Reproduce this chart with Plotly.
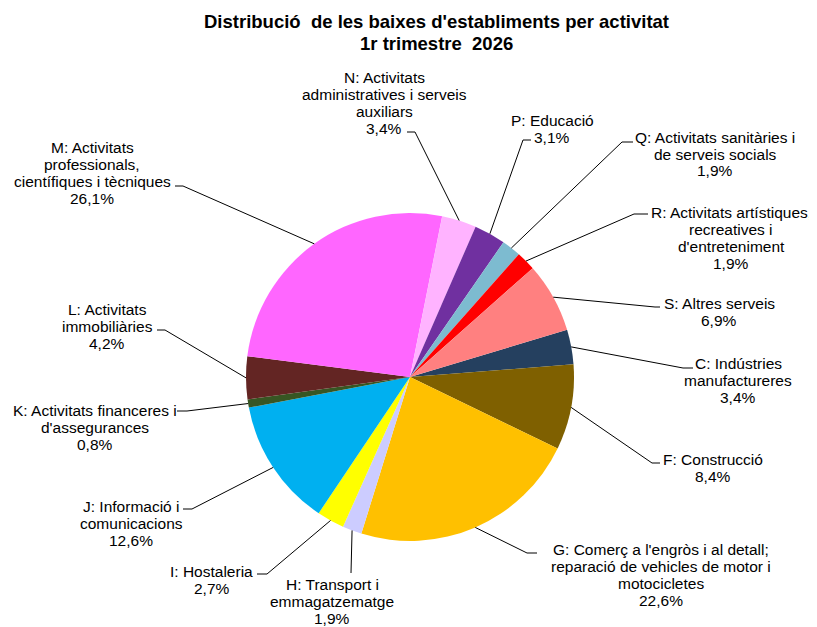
import math
import plotly.graph_objects as go

# Dades: baixes d'establiments per activitat, 1r trimestre 2026 (%)
codes = ["C", "F", "G", "H", "I", "J", "K", "L", "M", "N", "P", "Q", "R", "S"]
names = [
    "C: Indústries\nmanufactureres",
    "F: Construcció",
    "G: Comerç a l'engròs i al detall;\nreparació de vehicles de motor i\nmotocicletes",
    "H: Transport i\nemmagatzematge",
    "I: Hostaleria",
    "J: Informació i\ncomunicacions",
    "K: Activitats financeres i\nd'assegurances",
    "L: Activitats\nimmobiliàries",
    "M: Activitats\nprofessionals,\ncientífiques i tècniques",
    "N: Activitats\nadministratives i serveis\nauxiliars",
    "P: Educació",
    "Q: Activitats sanitàries i\nde serveis socials",
    "R: Activitats artístiques,\nrecreatives i\nd'entreteniment",
    "S: Altres serveis",
]
values = [3.4, 8.4, 22.6, 1.9, 2.7, 12.6, 0.8, 4.2, 26.1, 3.4, 3.1, 1.9, 1.9, 6.9]
colors = ["#25405F", "#7F6000", "#FFC000", "#CCCCFF", "#FFFF00", "#00B0F0", "#375623",
          "#632523", "#FF66FF", "#FFB3FF", "#7030A0", "#7DBBD0", "#FF0000", "#FF8080"]
title_lines = ["Distribució  de les baixes d'establiments per activitat", "1r trimestre  2026"]

# layout (page pixels; the page body has an 8px margin at top/left)
PAGE_W, PAGE_H, OFF = 817, 627, 8
W, H = PAGE_W - OFF, PAGE_H - OFF
CX, CY, R = 410, 377, 164
ROTATION = 73.3
FONT = "Liberation Sans, Arial, sans-serif"
LINE_H = 17

# centre of each label block and the leader line elbow / end
label_pos = {
    "C": (738, 380), "F": (713, 468), "G": (661, 575), "H": (332, 601),
    "I": (212, 580), "J": (131, 523), "K": (95, 427), "L": (107, 326),
    "M": (92, 173), "N": (384, 103), "P": (552, 129), "Q": (715, 154),
    "R": (731, 238), "S": (719, 312),
}
leader = {
    "C": (683, 368, 693), "F": (652, 463, 660), "G": (527, 553, 537),
    "H": (351, 573, 351), "I": (267, 574, 257), "J": (192, 509, 183),
    "K": (187, 411, 177), "L": (165, 330, 157), "M": (183, 186, 175),
    "N": (415, 132, 407), "P": (523, 140, 531), "Q": (622, 142, 633),
    "R": (634, 214, 648), "S": (655, 307, 660),
}


def px(x):
    return (x - OFF) / W


def py(y):
    return 1 - (y - OFF) / H


fig = go.Figure()
fig.add_trace(
    go.Pie(
        labels=codes,
        values=values,
        sort=False,
        direction="clockwise",
        rotation=ROTATION,
        marker=dict(colors=colors, line=dict(width=0)),
        textinfo="none",
        hoverinfo="label+percent",
        showlegend=False,
        domain=dict(x=[px(CX - R), px(CX + R)], y=[py(CY + R), py(CY - R)]),
    )
)

total = sum(values)
cum = 0
shapes = []
annotations = []
for code, name, v in zip(codes, names, values):
    mid = math.radians(ROTATION + 360 * (cum + v / 2) / total)
    cum += v
    sx = CX + R * math.sin(mid)
    sy = CY - R * math.cos(mid)
    ex, ey, tx = leader[code]
    shapes.append(dict(
        type="path", xref="paper", yref="paper",
        path=f"M {px(sx)} {py(sy)} L {px(ex)} {py(ey)} L {px(tx)} {py(ey)}",
        line=dict(color="black", width=1),
    ))

    lines = name.split("\n") + [f"{v:.1f}".replace(".", ",") + "%"]
    lx, ly = label_pos[code]
    for i, line in enumerate(lines):
        annotations.append(dict(
            text=line, x=px(lx), y=py(ly + (i - (len(lines) - 1) / 2) * LINE_H),
            xref="paper", yref="paper", xanchor="center", yanchor="middle",
            showarrow=False, font=dict(family=FONT, size=15.5, color="black"),
        ))

# title, one annotation per line
for i, line in enumerate(title_lines):
    annotations.append(dict(
        text=f"<b>{line}</b>", x=px(437), y=py(21 + i * 22.5),
        xref="paper", yref="paper", xanchor="center", yanchor="middle",
        showarrow=False, font=dict(family=FONT, size=18.5, color="black"),
    ))

fig.update_layout(
    width=W,
    height=H,
    margin=dict(l=0, r=0, t=0, b=0),
    paper_bgcolor="white",
    plot_bgcolor="white",
    shapes=shapes,
    annotations=annotations,
)

fig.write_html("out.html")
